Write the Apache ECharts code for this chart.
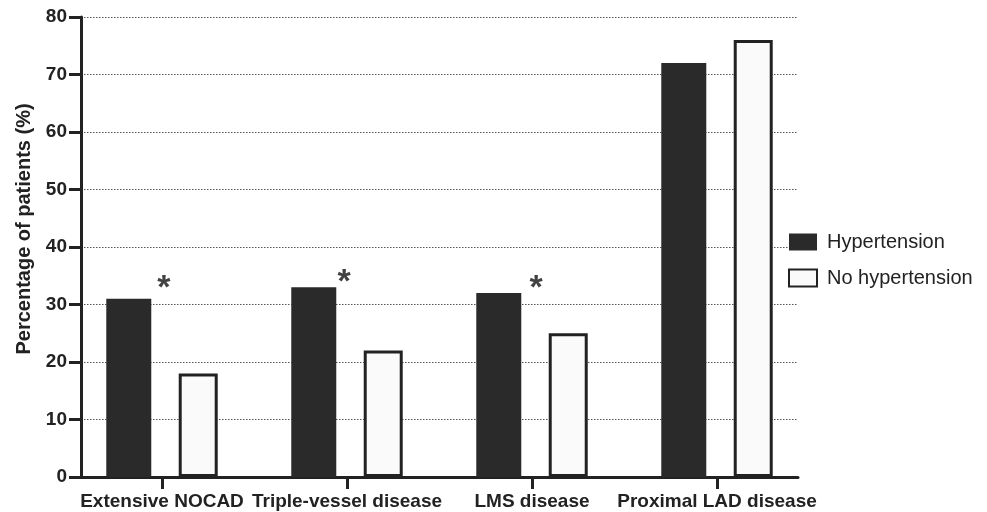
<!DOCTYPE html>
<html><head><meta charset="utf-8">
<script src="https://cdn.jsdelivr.net/npm/echarts@6/dist/echarts.min.js"></script>
<style>html,body{margin:0;padding:0;background:#fff}#c{width:987px;height:512px}</style>
</head><body><div id="c"></div>
<script>
const categories = ['Extensive NOCAD', 'Triple-vessel disease', 'LMS disease', 'Proximal LAD disease'];
const hypertension = [31, 33, 32, 72];
const noHypertension = [18, 22, 25, 76];
const starX = [0.01, 0.984, 2.022];
const starLevel = [34.2, 35.2, 34.2];
const yTicks = [0, 10, 20, 30, 40, 50, 60, 70, 80];

const chart = echarts.init(document.getElementById('c'), null, {renderer: 'canvas'});
const font = 'Liberation Sans, Arial, sans-serif';
const idx = categories.map((c, i) => i);
chart.setOption({
  animation: false,
  backgroundColor: '#ffffff',
  grid: {left: 81, right: 189, top: 17, bottom: 35, containLabel: false},
  legend: {
    orient: 'vertical', left: 783, top: 227, itemWidth: 28, itemHeight: 17, itemGap: 16, icon: 'rect',
    textStyle: {fontFamily: font, fontSize: 20, color: '#222', padding: [0, 0, 0, 5]},
    data: ['Hypertension', 'No hypertension']
  },
  xAxis: {
    type: 'value', min: -0.4378, max: 3.4378,
    axisLine: {show: true, onZero: false, lineStyle: {color: '#222', width: 3}},
    axisTick: {show: true, customValues: idx, length: 12, lineStyle: {color: '#222', width: 3}},
    axisLabel: {show: true, customValues: idx, formatter: v => categories[Math.round(v)] || '',
      fontFamily: font, fontSize: 19, fontWeight: 'bold', color: '#222', margin: 15},
    splitLine: {show: false}
  },
  yAxis: {
    type: 'value', min: 0, max: 80, interval: 10,
    name: 'Percentage of patients (%)', nameLocation: 'middle', nameGap: 44,
    nameTextStyle: {fontFamily: font, fontSize: 20, fontWeight: 'bold', color: '#222', padding: [0, 0, 0, 36]},
    axisLine: {show: true, onZero: false, lineStyle: {color: '#222', width: 3}},
    axisTick: {show: true, length: 12, lineStyle: {color: '#222', width: 3}},
    axisLabel: {fontFamily: font, fontSize: 19, fontWeight: 'bold', color: '#222', margin: 14,
      formatter: v => yTicks.includes(v) ? String(v) : ''},
    splitLine: {show: true, lineStyle: {color: '#555', width: 1, type: [1.5, 1.5]}}
  },
  series: [
    {name: 'Hypertension', type: 'bar', barWidth: 45, barGap: '61%',
      itemStyle: {color: '#2a2a2a'},
      data: hypertension.map((v, i) => [i, v])},
    {name: 'No hypertension', type: 'bar', barWidth: 39, barGap: '61%',
      itemStyle: {color: '#fafafa', borderColor: '#222', borderWidth: 3},
      data: noHypertension.map((v, i) => [i, v])},
    {name: 'sig', type: 'scatter', symbolSize: 1, itemStyle: {color: 'transparent'}, silent: true,
      label: {show: true, position: 'inside', formatter: '*', fontFamily: font, fontSize: 34,
        fontWeight: 'bold', color: '#111', offset: [0, 8]},
      data: starX.map((x, i) => [x, starLevel[i]])}
  ]
});
</script></body></html>
